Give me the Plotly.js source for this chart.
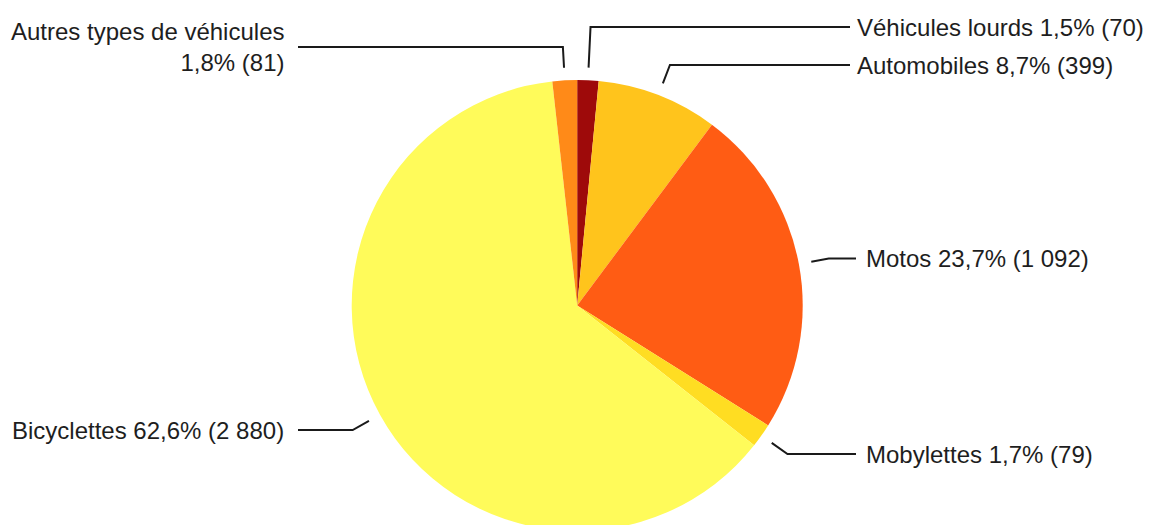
<!DOCTYPE html>
<html>
<head>
<meta charset="utf-8">
<script src="https://cdn.plot.ly/plotly-3.0.1.min.js"></script>
<style>
  html, body { margin: 0; padding: 0; width: 1159px; height: 525px; overflow: hidden; background: #fff; }
  #chart { width: 1159px; height: 540px; }
</style>
</head>
<body>
<div id="chart"></div>
<script>
// Data (clockwise from 12 o'clock)
const categories = ["Véhicules lourds", "Automobiles", "Motos", "Mobylettes", "Bicyclettes", "Autres types de véhicules"];
const counts = [70, 399, 1092, 79, 2880, 81];
const colors = ["#9E0A0A", "#FFC41C", "#FF5C14", "#FFDD22", "#FFFB5A", "#FF8A18"];

// Layout (pixels)
const W = 1159, H = 540;
const M = { l: 0, r: 0, t: 80, b: 9 };
const plotW = W - M.l - M.r, plotH = H - M.t - M.b;
const cx = 577.2, R = plotH / 2, cy = M.t + R;
const domHalf = 0.3;
const cxFrac = (cx - M.l) / plotW;

// label layout: side, line y, line end x, text x
const labelLayout = [
  { side: "right", y: 27,  lineEnd: 850, textX: 855 },
  { side: "right", y: 65,  lineEnd: 850, textX: 855 },
  { side: "right", y: 258.5, lineEnd: 856, textX: 864 },
  { side: "right", y: 454, lineEnd: 856, textX: 864 },
  { side: "left",  y: 430, lineEnd: 298, textX: 286 },
  { side: "left",  y: 47,  lineEnd: 298, textX: 286 }
];

const total = counts.reduce((a, b) => a + b, 0);
function fmtInt(n) { return String(n).replace(/\B(?=(\d{3})+(?!\d))/g, " "); }
function fmtPct(v) { return (v / total * 100).toFixed(1).replace(".", ",") + "%"; }

const px2x = p => (p - M.l) / plotW;
const px2y = p => 1 - (p - M.t) / plotH;

const annotations = [];
const shapes = [];
let cum = 0;
counts.forEach((v, i) => {
  const mid = (cum + v / 2) / total;
  cum += v;
  const ang = mid * 2 * Math.PI;
  const dx = Math.sin(ang), dy = -Math.cos(ang);
  const r1 = R * 1.056;
  const sx = cx + r1 * dx, sy = cy + r1 * dy;
  const L = labelLayout[i];
  const t = (L.y - cy) / dy;
  const ex = cx + t * dx, ey = L.y;
  shapes.push({
    type: "path", xref: "paper", yref: "paper",
    path: `M ${px2x(sx)},${px2y(sy)} L ${px2x(ex)},${px2y(ey)} L ${px2x(L.lineEnd)},${px2y(ey)}`,
    line: { color: "#1a1a1a", width: 2 }
  });
  let text;
  if (i === 5) text = categories[i] + "<br>" + fmtPct(v) + " (" + fmtInt(v) + ")";
  else text = categories[i] + " " + fmtPct(v) + " (" + fmtInt(v) + ")";
  annotations.push({
    xref: "paper", yref: "paper",
    x: px2x(L.textX), y: px2y(L.y),
    xanchor: L.side === "right" ? "left" : "right",
    yanchor: "middle",
    align: L.side === "right" ? "left" : "right",
    showarrow: false,
    text: text,
    font: { family: "Liberation Sans, Arial, sans-serif", size: 24, color: "#1e1e1e" }
  });
});

const trace = {
  type: "pie",
  labels: categories,
  values: counts,
  sort: false,
  direction: "clockwise",
  rotation: 0,
  textinfo: "none",
  hoverinfo: "label+value+percent",
  marker: { colors: colors, line: { width: 0 } },
  domain: { x: [cxFrac - domHalf, cxFrac + domHalf], y: [0, 1] },
  showlegend: false
};

Plotly.newPlot("chart", [trace], {
  width: W, height: H,
  margin: M,
  paper_bgcolor: "#ffffff",
  plot_bgcolor: "#ffffff",
  showlegend: false,
  annotations: annotations,
  shapes: shapes
}, { displayModeBar: false, staticPlot: true });
</script>
</body>
</html>
